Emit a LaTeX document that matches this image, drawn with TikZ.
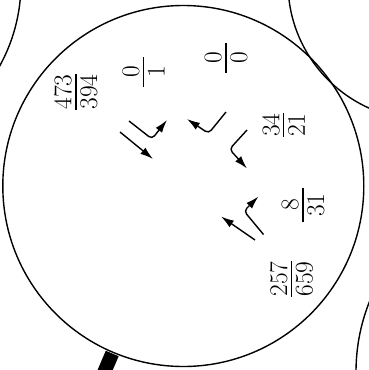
\documentclass[tikz,border=0pt]{standalone}
\usepackage{fontspec}
\usetikzlibrary{arrows.meta}
\newcommand{\fr}[3][0pt]{\vbox{\offinterlineskip\halign{\hfil##\hfil\cr
\hbox to #1{}\cr
#2\cr
\noalign{\kern3.5pt}
\leaders\hrule height 1.3pt\hfill\cr
\noalign{\kern3.5pt}
#3\cr}}}
\begin{document}
\begin{tikzpicture}[x=1pt,y=-1pt,line width=1.4pt,
  arr/.style={-{Latex[length=13pt,width=8pt]},rounded corners=4pt},
  lbl/.style={rotate=90,inner sep=0pt,font=\fontsize{25.5}{30}\selectfont},
  bar/.style={line width=14pt}]
\useasboundingbox (0,0) rectangle (369,370);
\clip (0,0) rectangle (369,370);
% circles
\coordinate (M) at (183.3,186);
\coordinate (TL) at (-151,-17);
\coordinate (TR) at (425,-17);
\coordinate (BR) at (546,372);
\draw (M) circle (180.5);
\draw (TL) circle (172);
\draw (TR) circle (137);
\draw (BR) circle (190);
% thick bar
\coordinate (b1) at (112.2,353.5);
\coordinate (b2) at (96.5,390.3);
\draw[bar] (b1) -- (b2);
% labels
\node[lbl] (f1) at (75.8,92) {\fr{473}{394}};
\node[lbl] (f2) at (143.5,72) {\fr[30pt]{0}{1}};
\node[lbl] (f3) at (226,58) {\fr[30pt]{0}{0}};
\node[lbl] (f4) at (283.5,125) {\fr{34}{21}};
\node[lbl] (f5) at (303,205) {\fr[34pt]{8}{31}};
\node[lbl] (f6) at (291.5,279) {\fr{257}{659}};
% arrows
\coordinate (a1s) at (120,132);
\coordinate (a1e) at (153,159);
\coordinate (a2s) at (129,121);
\coordinate (a2c) at (152,139);
\coordinate (a2e) at (167,120);
\coordinate (a3s) at (226,112);
\coordinate (a3c) at (208.6,133.4);
\coordinate (a3e) at (187,119);
\coordinate (a4s) at (247,130);
\coordinate (a4c) at (229.5,149.2);
\coordinate (a4e) at (247,168.5);
\coordinate (a5s) at (263.5,234.5);
\coordinate (a5c) at (244,211);
\coordinate (a5e) at (258.5,196.5);
\coordinate (a6s) at (255,240);
\coordinate (a6e) at (221,216.5);
\draw[arr] (a1s) -- (a1e);
\draw[arr] (a2s) -- (a2c) -- (a2e);
\draw[arr] (a3s) -- (a3c) -- (a3e);
\draw[arr] (a4s) -- (a4c) -- (a4e);
\draw[arr] (a5s) -- (a5c) -- (a5e);
\draw[arr] (a6s) -- (a6e);
\end{tikzpicture}
\end{document}
